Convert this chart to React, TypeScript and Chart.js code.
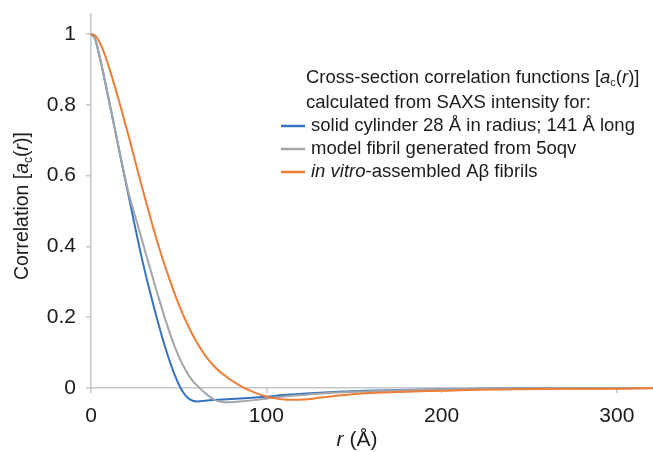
import React, { useEffect, useRef } from "react";
import { Chart, registerables } from "chart.js";

Chart.register(...registerables);

// ---- data ----
const cylinderR = [0, 2, 4, 6, 8, 10, 14, 18, 22, 26, 30, 34, 38, 42, 46, 49, 52, 55, 58, 61, 65, 70, 80, 90, 100, 110, 125, 145, 165, 185, 220, 260, 321];
const cylinderV = [1, 0.99, 0.955, 0.912, 0.866, 0.818, 0.722, 0.625, 0.53, 0.435, 0.345, 0.265, 0.19, 0.12, 0.06, 0.022, -0.008, -0.027, -0.036, -0.038, -0.036, -0.034, -0.031, -0.028, -0.025, -0.02, -0.015, -0.01, -0.007, -0.005, -0.002, -0.001, 0];

const modelR = [0, 2, 4, 6, 8, 10, 14, 18, 22, 26, 30, 34, 38, 42, 46, 50, 54, 58, 62, 66, 70, 74, 78, 85, 95, 105, 120, 140, 165, 190, 220, 260, 321];
const modelV = [1, 0.99, 0.955, 0.912, 0.866, 0.818, 0.722, 0.627, 0.54, 0.472, 0.402, 0.333, 0.265, 0.2, 0.14, 0.09, 0.05, 0.02, 0, -0.018, -0.032, -0.039, -0.04, -0.038, -0.033, -0.027, -0.02, -0.013, -0.008, -0.005, -0.003, -0.001, 0];

const vitroR = [0, 2, 4, 6, 8, 10, 13, 16, 20, 24, 28, 32, 36, 40, 44, 48, 52, 56, 60, 65, 70, 75, 80, 86, 90, 95, 100, 106, 112, 118, 125, 131, 146, 159, 184, 201, 222, 260, 300, 321];
const vitroV = [1, 0.997, 0.985, 0.965, 0.94, 0.91, 0.862, 0.81, 0.738, 0.664, 0.588, 0.515, 0.444, 0.378, 0.318, 0.263, 0.213, 0.17, 0.132, 0.093, 0.063, 0.04, 0.022, 0.004, -0.006, -0.016, -0.024, -0.03, -0.033, -0.033, -0.031, -0.027, -0.019, -0.014, -0.01, -0.0075, -0.005, -0.003, -0.002, -0.001];

const xTicks = [0, 100, 200, 300];
const yTicks = [0, 0.2, 0.4, 0.6, 0.8, 1];

type Seg = { t: string; i?: boolean; sub?: boolean };

const legendHeader: Seg[][] = [
  [{ t: "Cross-section correlation functions [" }, { t: "a", i: true }, { t: "c", sub: true }, { t: "(" }, { t: "r", i: true }, { t: ")]" }],
  [{ t: "calculated from SAXS intensity for:" }],
];
const seriesLabels: Seg[][] = [
  [{ t: "solid cylinder 28 Å in radius; 141 Å long" }],
  [{ t: "model fibril generated from 5oqv" }],
  [{ t: "in vitro", i: true }, { t: "-assembled Aβ fibrils" }],
];
const yTitle: Seg[] = [{ t: "Correlation [" }, { t: "a", i: true }, { t: "c", sub: true }, { t: "(" }, { t: "r", i: true }, { t: ")]" }];
const xTitle: Seg[] = [{ t: "r", i: true }, { t: " (Å)" }];

const colors = ["#3572c2", "#a2a6aa", "#ee7d35"];
const FAMILY = '"Liberation Sans", Arial, Helvetica, sans-serif';
const AXIS = "#c3c6ca";
const TEXT = "#1b1b1b";

function fontFor(s: Seg, size: number) {
  const sz = s.sub ? Math.round(size * 0.6) : size;
  return `${s.i ? "italic " : ""}${sz}px ${FAMILY}`;
}

function drawRich(ctx: CanvasRenderingContext2D, segs: Seg[], x: number, y: number, size: number, align: "left" | "center") {
  ctx.textBaseline = "middle";
  ctx.textAlign = "left";
  let total = 0;
  for (const s of segs) {
    ctx.font = fontFor(s, size);
    total += ctx.measureText(s.t).width;
  }
  let cx = align === "center" ? x - total / 2 : x;
  for (const s of segs) {
    ctx.font = fontFor(s, size);
    ctx.fillText(s.t, cx, s.sub ? y + size * 0.28 : y);
    cx += ctx.measureText(s.t).width;
  }
}

const textPlugin = {
  id: "richText",
  afterDraw(chart: any) {
    const ctx: CanvasRenderingContext2D = chart.ctx;
    const { left, top, bottom } = chart.chartArea;
    ctx.save();
    ctx.fillStyle = TEXT;
    // y title
    ctx.save();
    ctx.translate(left - 68, (top + bottom) / 2 + 5);
    ctx.rotate(-Math.PI / 2);
    drawRich(ctx, yTitle, 0, 0, 19.5, "center");
    ctx.restore();
    // x title
    drawRich(ctx, xTitle, left + 266, bottom + 52, 21, "center");
    // legend
    const lx = left + 215;
    drawRich(ctx, legendHeader[0], lx, top + 64, 18.5, "left");
    drawRich(ctx, legendHeader[1], lx, top + 89, 18.5, "left");
    seriesLabels.forEach((lab, k) => {
      const yy = top + 112 + k * 23;
      ctx.strokeStyle = colors[k];
      ctx.lineWidth = 2.5;
      ctx.beginPath();
      ctx.moveTo(lx - 25, yy);
      ctx.lineTo(lx - 1, yy);
      ctx.stroke();
      ctx.fillStyle = TEXT;
      drawRich(ctx, lab, lx + 5, yy, 18.5, "left");
    });
    ctx.restore();
  },
};

function pts(r: number[], v: number[]) {
  return r.map((x, k) => ({ x, y: v[k] }));
}

export default function App() {
  const ref = useRef<HTMLCanvasElement>(null);
  useEffect(() => {
    document.body.style.margin = "0";
    const names = ["cylinder", "model", "vitro"];
    const series = [pts(cylinderR, cylinderV), pts(modelR, modelV), pts(vitroR, vitroV)];
    const chart = new Chart(ref.current!, {
      type: "scatter",
      data: {
        datasets: [series[2], series[1], series[0]].map((d, k) => ({
          label: names[2 - k],
          data: d,
          showLine: true,
          borderColor: colors[2 - k],
          backgroundColor: colors[2 - k],
          borderWidth: 2,
          pointRadius: 0,
          tension: 0.4,
          clip: false as any,
        })),
      },
      options: {
        animation: false,
        responsive: true,
        maintainAspectRatio: false,
        layout: { padding: { top: 14, right: 0, left: 0, bottom: 0 } },
        plugins: { legend: { display: false }, tooltip: { enabled: false } },
        scales: {
          x: {
            type: "linear",
            min: 0,
            max: 320.6,
            afterBuildTicks: (s: any) => {
              s.ticks = xTicks.map((v) => ({ value: v }));
            },
            afterFit: (s: any) => {
              s.height = 64;
              s.paddingLeft = 0;
              s.paddingRight = 0;
            },
            ticks: {
              color: TEXT,
              font: { family: FAMILY, size: 21 },
              padding: 11,
              maxRotation: 0,
              callback: (v: any) => String(v),
            },
            grid: { drawOnChartArea: false, color: AXIS, tickLength: 5, lineWidth: 1.5 },
            border: { color: AXIS, width: 1.5 },
          },
          y: {
            type: "linear",
            min: 0,
            max: 1.0565,
            afterBuildTicks: (s: any) => {
              s.ticks = yTicks.map((v) => ({ value: v }));
            },
            afterFit: (s: any) => {
              s.width = 91;
              s.paddingTop = 0;
              s.paddingBottom = 0;
            },
            ticks: {
              color: TEXT,
              font: { family: FAMILY, size: 21 },
              padding: 10,
              callback: (v: any) => String(Math.round(Number(v) * 10) / 10),
            },
            grid: { drawOnChartArea: false, color: AXIS, tickLength: 5, lineWidth: 1.5 },
            border: { color: AXIS, width: 1.5 },
          },
        },
      },
      plugins: [textPlugin],
    });
    return () => chart.destroy();
  }, []);
  return (
    <div style={{ position: "relative", width: 653, height: 452 }}>
      <canvas ref={ref} />
    </div>
  );
}
